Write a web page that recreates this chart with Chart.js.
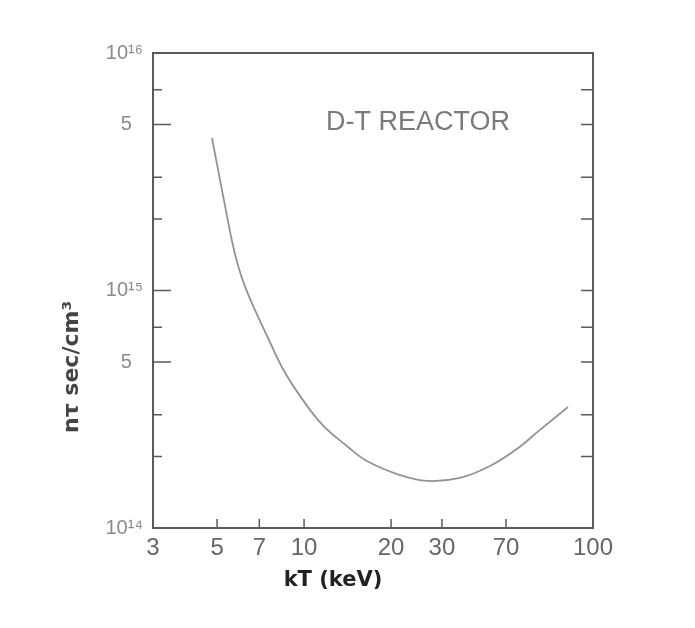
<!DOCTYPE html>
<html>
<head>
<meta charset="utf-8">
<title>D-T reactor</title>
<script src="https://cdn.jsdelivr.net/npm/chart.js@4/dist/chart.umd.min.js"></script>
<style>
  html, body { margin: 0; padding: 0; background: #fff; }
  #wrap { width: 695px; height: 628px; }
</style>
</head>
<body>
<div id="wrap"><canvas id="chart" width="695" height="628"></canvas></div>
<script>
'use strict';

// Values (kT in keV, n-tau in sec/cm^3)
const kT = [4.80, 5.08, 5.37, 5.63, 5.90, 6.24, 6.76, 7.50, 8.45, 9.68, 11.6, 14.1, 16.5,
            21.5, 26.6, 34.6, 44.0, 54.5, 65.5, 81.9];
const nTau = [4.39e15, 3.06e15, 2.16e15, 1.616e15, 1.281e15, 1.044e15, 8.28e14, 6.31e14, 4.67e14,
              3.60e14, 2.71e14, 2.21e14, 1.915e14, 1.67e14, 1.578e14, 1.624e14, 1.824e14,
              2.15e14, 2.59e14, 3.23e14];

// Tick values and the labels printed on the figure
const xTickValues = [3, 5, 7, 10, 20, 30, 50, 100];
const xTickLabels = ['3', '5', '7', '10', '20', '30', '70', '100'];
const yTickValues = [1e14, 2e14, 3e14, 5e14, 7e14, 1e15, 2e15, 3e15, 5e15, 7e15, 1e16];
const yTickLabels = ['10\u00B9\u2074', '', '', '5  ', '', '10\u00B9\u2075', '', '', '5  ', '', '10\u00B9\u2076'];
const yLongTicks = [5e14, 1e15, 5e15];

const frameColor = '#5a5a5a';

// Frame, inward tick marks and the text on the figure
const figurePlugin = {
  id: 'figure',
  afterDraw: function(chart) {
    let ctx = chart.ctx;
    let area = chart.chartArea;
    let xs = chart.scales.x, ys = chart.scales.y;
    ctx.save();
    ctx.strokeStyle = frameColor;
    ctx.lineWidth = 2;
    ctx.strokeRect(area.left, area.top, area.right - area.left, area.bottom - area.top);

    ctx.lineWidth = 1.5;
    ctx.beginPath();
    for (let v of yTickValues) {
      if (v === 1e14 || v === 1e16) { continue; }
      let py = ys.getPixelForValue(v);
      let len = yLongTicks.indexOf(v) >= 0 ? 18 : 9;
      ctx.moveTo(area.left, py); ctx.lineTo(area.left + len, py);
      ctx.moveTo(area.right, py); ctx.lineTo(area.right - 12, py);
    }
    for (let v of xTickValues) {
      if (v === 3 || v === 100) { continue; }
      let px = xs.getPixelForValue(v);
      ctx.moveTo(px, area.bottom); ctx.lineTo(px, area.bottom - 9);
    }
    ctx.stroke();

    ctx.fillStyle = '#7a7a7a';
    ctx.font = '27px "Liberation Sans", Arial, sans-serif';
    ctx.textBaseline = 'middle';
    ctx.textAlign = 'left';
    ctx.fillText('D-T REACTOR', 326, 123);

    ctx.fillStyle = '#222';
    ctx.font = 'bold 21px "DejaVu Sans", sans-serif';
    ctx.textAlign = 'center';
    ctx.fillText('kT (keV)', 333, 581);

    ctx.translate(72, 367);
    ctx.rotate(-Math.PI / 2);
    ctx.fillStyle = '#444';
    ctx.font = 'bold 22px "DejaVu Sans", sans-serif';
    ctx.fillText('n\u03C4 sec/cm\u00B3', 0, 0);
    ctx.restore();
  }
};

new Chart(document.getElementById('chart').getContext('2d'), {
  type: 'line',
  data: {
    datasets: [{
      data: kT.map(function(t, i) { return { x: t, y: nTau[i] }; }),
      borderColor: 'rgba(120,120,120,0.8)',
      borderWidth: 1.8,
      pointRadius: 0,
      fill: false,
      tension: 0.4
    }]
  },
  options: {
    responsive: false,
    animation: false,
    layout: { padding: { top: 53, right: 102, left: 0, bottom: 0 } },
    plugins: { legend: { display: false }, tooltip: { enabled: false } },
    scales: {
      x: {
        type: 'logarithmic',
        min: 3,
        max: 100,
        afterBuildTicks: function(scale) {
          scale.ticks = xTickValues.map(function(v) { return { value: v }; });
        },
        afterFit: function(scale) { scale.height = 100; },
        grid: { display: false, drawTicks: false },
        border: { display: false },
        ticks: {
          autoSkip: false,
          maxRotation: 0,
          padding: 6,
          color: '#666',
          font: { family: '"Liberation Sans", Arial, sans-serif', size: 24 },
          callback: function(value) {
            let i = xTickValues.indexOf(value);
            return i >= 0 ? xTickLabels[i] : '';
          }
        }
      },
      y: {
        type: 'logarithmic',
        min: 1e14,
        max: 1e16,
        afterBuildTicks: function(scale) {
          scale.ticks = yTickValues.map(function(v) { return { value: v }; });
        },
        afterFit: function(scale) { scale.width = 153; },
        grid: { display: false, drawTicks: false },
        border: { display: false },
        ticks: {
          autoSkip: false,
          padding: 10,
          color: '#8a8a8a',
          font: { family: '"Liberation Sans", Arial, sans-serif', size: 20 },
          callback: function(value) {
            let i = yTickValues.indexOf(value);
            return i >= 0 ? yTickLabels[i] : '';
          }
        }
      }
    }
  },
  plugins: [figurePlugin]
});
</script>
</body>
</html>
